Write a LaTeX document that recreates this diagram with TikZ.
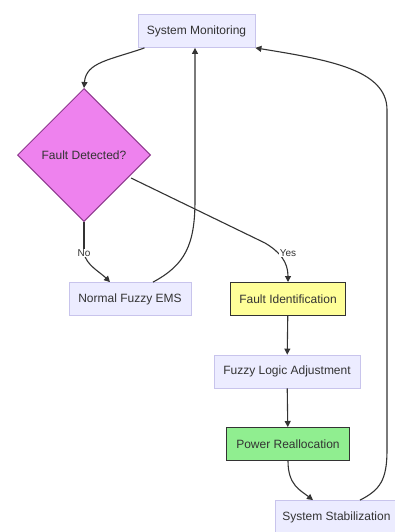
\documentclass[tikz,border=0pt]{standalone}
\usepackage{fontspec}
\setmainfont{Liberation Sans}
\usetikzlibrary{shapes.geometric,arrows.meta}
\definecolor{boxfill}{HTML}{ECECFF}
\definecolor{boxline}{HTML}{C8C4EC}
\definecolor{dfill}{HTML}{EE82EE}
\definecolor{dline}{HTML}{8E3A8E}
\definecolor{yfill}{HTML}{FFFF99}
\definecolor{gfill}{HTML}{90EE90}
\definecolor{txt}{HTML}{333333}
\definecolor{edge}{HTML}{333333}
\begin{document}
\begin{tikzpicture}[x=1pt,y=-1pt,
  every node/.style={font=\fontsize{12}{14}\selectfont, text=txt},
  procbox/.style={draw=boxline, fill=boxfill, line width=0.8pt, minimum height=33pt, inner xsep=6pt},
  decbox/.style={diamond, draw=dline, fill=dfill, line width=1pt, minimum width=133pt, minimum height=133pt, aspect=1, inner sep=0pt},
  yelbox/.style={draw=edge, fill=yfill, line width=1pt, minimum height=33pt, minimum width=115pt},
  grnbox/.style={draw=edge, fill=gfill, line width=1pt, minimum height=33pt, minimum width=123pt},
  conn/.style={draw=edge, line width=1.1pt, -{Triangle[length=6pt,width=6pt]}},
  lbl/.style={fill=white, inner sep=1pt, font=\fontsize{10}{11}\selectfont}
]
\clip (0,0) rectangle (395,532);
\fill[white] (0,0) rectangle (395,532);
\node[procbox, minimum width=117pt] (sm) at (196.5,31) {System Monitoring};
\node[decbox] (fd) at (84,155) {Fault Detected?};
\node[procbox, minimum width=122pt] (nf) at (130,299) {Normal Fuzzy EMS};
\node[yelbox] (fi) at (288,299) {Fault Identification};
\node[procbox, minimum width=146pt] (fl) at (287,371.5) {Fuzzy Logic Adjustment};
\node[grnbox] (pr) at (288,444) {Power Reallocation};
\node[procbox, anchor=west, inner xsep=7pt, minimum width=130pt, align=left] (ss) at (275,517) {System Stabilization\hspace{8pt}};

\coordinate (noL) at (84,253);
\coordinate (yesL) at (288,253);

\draw[conn] ([xshift=-52pt]sm.south) .. controls (110,60) and (86,62) .. (fd.north);
\draw[edge, line width=1.1pt] (fd.south) -- (noL);
\draw[conn] (noL) .. controls (86,265) and (100,272) .. ([xshift=-20pt]nf.north);
\node[lbl] at (noL) {No};
\draw[conn] ([xshift=23pt]nf.north) .. controls (185,265) and (195,245) .. (195,200) -- ([xshift=-1.5pt]sm.south);
\draw[edge, line width=1.1pt] (131,178) -- (265,243);
\draw[conn] (265,243) .. controls (280,252) and (288,262) .. (fi.north);
\node[lbl] at (yesL) {Yes};
\draw[conn] (fi) -- (fl);
\draw[conn] (fl) -- (pr);
\draw[conn] (pr.south) .. controls (288,485) and (300,490) .. ([xshift=38pt]ss.north west);
\draw[conn] ([xshift=85pt]ss.north west) .. controls (380,490) and (387,480) .. (387,450) -- (387,110) .. controls (387,70) and (330,60) .. (sm.south east);
\end{tikzpicture}
\end{document}
